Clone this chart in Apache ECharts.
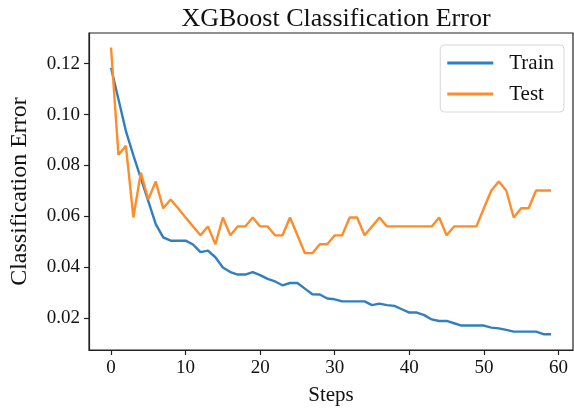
<!DOCTYPE html>
<html>
<head>
<meta charset="utf-8">
<script src="https://cdn.jsdelivr.net/npm/echarts@6/dist/echarts.min.js"></script>
<style>
  html, body { margin: 0; padding: 0; background: #fff; }
  #chart { width: 574px; height: 411px; }
</style>
</head>
<body>
<div id="chart"></div>
<script>
// Boosting rounds 0..59
const steps = Array.from({ length: 60 }, (_, i) => i);

// Classification error on the training set per round
const trainError = [
  0.1184, 0.1060, 0.0935, 0.0840, 0.0750, 0.0660, 0.0570, 0.0518, 0.0505, 0.0505,
  0.0505, 0.0490, 0.0460, 0.0466, 0.0440, 0.0400, 0.0382, 0.0372, 0.0372, 0.0382,
  0.0370, 0.0355, 0.0345, 0.0330, 0.0339, 0.0339, 0.0317, 0.0295, 0.0294, 0.0278,
  0.0275, 0.0267, 0.0267, 0.0267, 0.0267, 0.0252, 0.0258, 0.0252, 0.0249, 0.0236,
  0.0223, 0.0223, 0.0213, 0.0196, 0.0190, 0.0190, 0.0181, 0.0172, 0.0172, 0.0172,
  0.0172, 0.0164, 0.0161, 0.0155, 0.0148, 0.0148, 0.0148, 0.0148, 0.0138, 0.0138
];

// Classification error on the held-out set per round
const testError = [
  0.1263, 0.0842, 0.0877, 0.0596, 0.0772, 0.0667, 0.0737, 0.0632, 0.0667, 0.0632,
  0.0596, 0.0561, 0.0526, 0.0561, 0.0491, 0.0596, 0.0526, 0.0561, 0.0561, 0.0596,
  0.0561, 0.0561, 0.0526, 0.0526, 0.0596, 0.0526, 0.0456, 0.0456, 0.0491, 0.0491,
  0.0526, 0.0526, 0.0596, 0.0596, 0.0526, 0.0561, 0.0596, 0.0561, 0.0561, 0.0561,
  0.0561, 0.0561, 0.0561, 0.0561, 0.0596, 0.0526, 0.0561, 0.0561, 0.0561, 0.0561,
  0.0632, 0.0702, 0.0737, 0.0702, 0.0596, 0.0632, 0.0632, 0.0702, 0.0702, 0.0702
];

const xTicks = [0, 10, 20, 30, 40, 50, 60];
const yTicks = [0.02, 0.04, 0.06, 0.08, 0.10, 0.12];

const SERIF = '"Liberation Serif", "DejaVu Serif", serif';
const INK = '#111';

const chart = echarts.init(document.getElementById('chart'), null, { renderer: 'canvas' });

const pair = (ys) => steps.map((s, i) => [s, ys[i]]);

chart.setOption({
  animation: false,
  backgroundColor: '#fff',
  title: {
    text: 'XGBoost Classification Error',
    left: 331,
    top: 1,
    textAlign: 'center',
    textStyle: { fontFamily: SERIF, fontSize: 26, fontWeight: 'normal', color: INK }
  },
  legend: {
    orient: 'vertical',
    right: 10,
    top: 45,
    padding: [7, 10, 7, 7],
    itemWidth: 46,
    itemHeight: 3,
    itemGap: 9,
    icon: 'rect',
    borderColor: '#d6d6d6',
    borderWidth: 1,
    borderRadius: 4,
    backgroundColor: '#fff',
    textStyle: { fontFamily: SERIF, fontSize: 21, color: INK, padding: [0, 0, 0, 11], lineHeight: 22 },
    data: ['Train', 'Test']
  },
  grid: {
    left: 86, right: 1, top: 33, bottom: 59,
    show: true, borderColor: '#222', borderWidth: 1.2, backgroundColor: 'transparent'
  },
  xAxis: {
    type: 'value',
    min: -2.95,
    max: 61.95,
    name: 'Steps',
    nameLocation: 'middle',
    nameGap: 35,
    nameTextStyle: { fontFamily: SERIF, fontSize: 21, color: INK },
    axisLine: { show: true, onZero: false, lineStyle: { color: '#222', width: 1.2 } },
    axisTick: { show: true, length: 5, customValues: xTicks, lineStyle: { color: '#222', width: 1.2 } },
    axisLabel: { customValues: xTicks, margin: 9, fontFamily: SERIF, fontSize: 19, color: INK },
    splitLine: { show: false }
  },
  yAxis: {
    type: 'value',
    min: 0.0076,
    max: 0.132,
    name: 'Classification Error',
    nameLocation: 'middle',
    nameGap: 57,
    nameTextStyle: { fontFamily: SERIF, fontSize: 24, color: INK },
    axisLine: { show: true, onZero: false, lineStyle: { color: '#222', width: 1.2 } },
    axisTick: { show: true, length: 5, customValues: yTicks, lineStyle: { color: '#222', width: 1.2 } },
    axisLabel: {
      customValues: yTicks, margin: 9, fontFamily: SERIF, fontSize: 19, color: INK,
      formatter: (v) => v.toFixed(2)
    },
    splitLine: { show: false }
  },
  series: [
    {
      name: 'Train',
      type: 'line',
      data: pair(trainError),
      symbol: 'none',
      color: '#2f7fc1',
      lineStyle: { width: 2.4, color: '#2f7fc1' },
      itemStyle: { color: '#2f7fc1' }
    },
    {
      name: 'Test',
      type: 'line',
      data: pair(testError),
      symbol: 'none',
      color: '#ff8c2a',
      lineStyle: { width: 2.4, color: '#ff8c2a' },
      itemStyle: { color: '#ff8c2a' }
    }
  ]
});
</script>
</body>
</html>
